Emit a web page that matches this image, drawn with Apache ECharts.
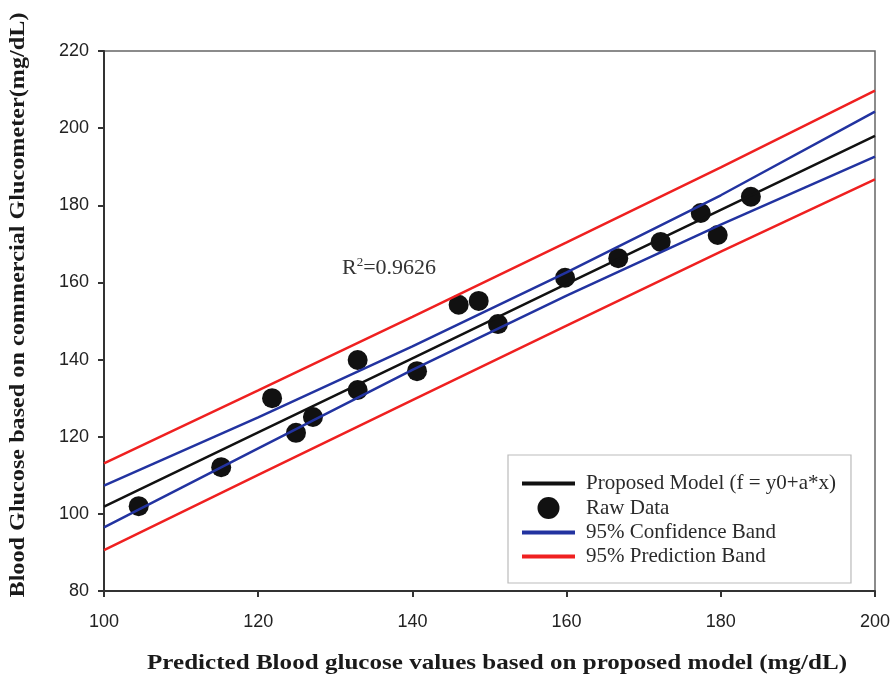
<!DOCTYPE html>
<html>
<head>
<meta charset="utf-8">
<script src="https://cdn.jsdelivr.net/npm/echarts@6/dist/echarts.min.js"></script>
<style>html,body{margin:0;padding:0;background:#fff}#c{width:895px;height:681px}</style>
</head>
<body>
<div id="c"></div>
<script>
// Raw data points (predicted, measured)
const rawX = [104.5, 115.2, 121.8, 124.9, 127.1, 132.9, 132.9, 140.6, 146.0, 148.6, 151.1, 159.8, 166.7, 172.2, 177.4, 179.6, 183.9];
const rawY = [102.0, 112.1, 130.0, 121.0, 125.1, 139.9, 132.1, 137.0, 154.2, 155.2, 149.2, 161.2, 166.3, 170.5, 178.0, 172.3, 182.2];
// Curves sampled at these x positions
const bandX = [100, 120, 140, 160, 180, 200];
const fitY = [101.9, 121.1, 140.3, 159.6, 178.8, 198.0];
const confUpper = [107.3, 125.0, 143.4, 162.6, 182.6, 204.3];
const confLower = [96.5, 117.0, 137.3, 156.6, 175.0, 192.6];
const predUpper = [113.1, 132.0, 151.1, 170.4, 189.8, 209.7];
const predLower = [90.6, 110.1, 129.5, 148.8, 168.0, 186.7];
const xTicks = [100, 120, 140, 160, 180, 200];
const yTicks = [80, 100, 120, 140, 160, 180, 200, 220];
const names = ['Proposed Model (f = y0+a*x)', 'Raw Data', '95% Confidence Band', '95% Prediction Band'];
const xTitle = 'Predicted Blood glucose values based on proposed model (mg/dL)';
const yTitle = 'Blood Glucose based on commercial Glucometer(mg/dL)';

const pairs = (xs, ys) => xs.map((x, i) => [x, ys[i]]);
const lineSeries = (name, ys, color) => ({
  name, type: 'line', data: pairs(bandX, ys), showSymbol: false, symbol: 'none',
  lineStyle: { color, width: 2.5 }, itemStyle: { color }, z: 3, silent: true
});
const lineIcon = 'path://M0,0L53,0L53,4L0,4Z';

const chart = echarts.init(document.getElementById('c'));
chart.setOption({
  animation: false,
  grid: { left: 104, right: 20, top: 51, bottom: 90, show: true, borderColor: '#666', borderWidth: 1.5,
          backgroundColor: 'transparent', outerBoundsMode: 'none', containLabel: false },
  xAxis: {
    type: 'value', min: xTicks[0], max: xTicks[xTicks.length - 1], interval: 20,
    axisLine: { show: true, lineStyle: { color: '#333', width: 2 } },
    axisTick: { show: true, length: 6, lineStyle: { color: '#333', width: 2 } },
    axisLabel: { fontFamily: 'Liberation Sans', fontSize: 18, color: '#222', margin: 22 },
    splitLine: { show: false }
  },
  yAxis: {
    type: 'value', min: yTicks[0], max: yTicks[yTicks.length - 1], interval: 20,
    axisLine: { show: true, lineStyle: { color: '#333', width: 2 } },
    axisTick: { show: true, length: 6, lineStyle: { color: '#333', width: 2 } },
    axisLabel: { fontFamily: 'Liberation Sans', fontSize: 18, color: '#222', margin: 15 },
    splitLine: { show: false }
  },
  legend: {
    data: [
      { name: names[0], icon: lineIcon },
      { name: names[1], icon: 'circle' },
      { name: names[2], icon: lineIcon },
      { name: names[3], icon: lineIcon }
    ],
    orient: 'vertical', left: 508, top: 455,
    padding: [18, 15, 16, 14], itemWidth: 53, itemHeight: 22, itemGap: 3,
    borderColor: '#bbb', borderWidth: 1.2, backgroundColor: '#fff',
    textStyle: { fontFamily: 'Liberation Serif', fontSize: 21, color: '#2a2a2a', padding: [0, 0, 0, 6] },
    selectedMode: false
  },
  graphic: [
    {
      type: 'text', x: 342, y: 268, z: 10,
      style: {
        text: '{b|R}{s|2}{b|=0.9626}', verticalAlign: 'middle',
        rich: {
          b: { fontFamily: 'Liberation Serif', fontSize: 22, fill: '#333' },
          s: { fontFamily: 'Liberation Serif', fontSize: 13, fill: '#333', verticalAlign: 'top', padding: [0, 0, 10, 0] }
        }
      }
    },
    {
      type: 'text', x: 497, y: 663, scaleX: 1.14, z: 10,
      style: { text: xTitle, align: 'center', verticalAlign: 'middle',
               fontFamily: 'Liberation Serif', fontWeight: 'bold', fontSize: 22, fill: '#1a1a1a' }
    },
    {
      type: 'text', x: 18, y: 305, rotation: Math.PI / 2, scaleX: 1.1, z: 10,
      style: { text: yTitle, align: 'center', verticalAlign: 'middle',
               fontFamily: 'Liberation Serif', fontWeight: 'bold', fontSize: 22, fill: '#1a1a1a' }
    }
  ],
  series: [
    lineSeries(names[0], fitY, '#111'),
    {
      name: names[1], type: 'scatter', data: pairs(rawX, rawY), symbol: 'circle', symbolSize: 20,
      itemStyle: { color: '#111', opacity: 1 }, z: 2
    },
    lineSeries(names[2], confUpper, '#2233a0'),
    lineSeries(names[2], confLower, '#2233a0'),
    lineSeries(names[3], predUpper, '#ef2020'),
    lineSeries(names[3], predLower, '#ef2020')
  ]
});
</script>
</body>
</html>
